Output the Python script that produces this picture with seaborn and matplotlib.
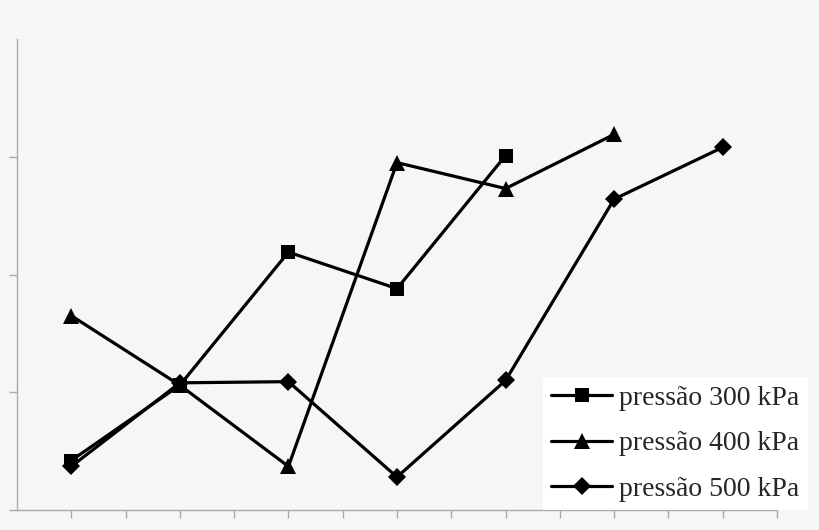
import numpy as np
import pandas as pd
import matplotlib
matplotlib.use("Agg")
import matplotlib.pyplot as plt
import seaborn as sns

# values
X_300 = [1, 3, 5, 7, 9]
Y_300 = [0.42, 1.06, 2.19, 1.88, 3.01]
X_400 = [1, 3, 5, 7, 9, 11]
Y_400 = [1.65, 1.06, 0.37, 2.95, 2.73, 3.19]
X_500 = [1, 3, 5, 7, 9, 11, 13]
Y_500 = [0.37, 1.08, 1.09, 0.28, 1.10, 2.64, 3.08]
SERIES_NAMES = ["pressão 300 kPa", "pressão 400 kPa", "pressão 500 kPa"]
MARKERS = ["s", "^", "D"]

BG = "#f6f6f6"
AXIS_GREY = "#aaaaaa"


def build_frame():
    rows = []
    for name, xs, ys in zip(SERIES_NAMES, [X_300, X_400, X_500], [Y_300, Y_400, Y_500]):
        for x, y in zip(xs, ys):
            rows.append({"x": x, "y": y, "serie": name})
    return pd.DataFrame(rows)


def main():
    sns.set_style("white")
    df = build_frame()

    fig = plt.figure(figsize=(8.2, 5.3), dpi=100, facecolor=BG)
    ax = fig.add_axes([17 / 820, 20 / 530, 760 / 820, 471 / 530])
    ax.set_facecolor(BG)

    sns.lineplot(data=df, x="x", y="y", hue="serie", style="serie",
                 palette=["black"] * 3, markers=dict(zip(SERIES_NAMES, MARKERS)),
                 dashes=False, linewidth=2.3, markersize=10, markeredgewidth=0,
                 ax=ax, legend=True)
    # diamonds look a bit smaller in the original
    for line, ms in zip(ax.lines, [10, 12, 9]):
        line.set_markersize(ms)

    ax.set_xlim(0, 14)
    ax.set_ylim(0, 4)
    ax.set_xticks(np.arange(1, 15))
    ax.set_yticks([0, 1, 2, 3])
    ax.set_xticklabels([])
    ax.set_yticklabels([])
    ax.set_xlabel("")
    ax.set_ylabel("")
    ax.tick_params(axis="both", length=6, width=1, color=AXIS_GREY, direction="out",
                   bottom=True, left=True)
    for side in ["top", "right"]:
        ax.spines[side].set_visible(False)
    for side in ["left", "bottom"]:
        ax.spines[side].set_color(AXIS_GREY)
        ax.spines[side].set_linewidth(1)

    handles, labels = ax.get_legend_handles_labels()
    for h, ms in zip(handles, [10, 12, 9]):
        h.set_markersize(ms)
        h.set_markeredgewidth(0)
    leg = ax.legend(handles, labels, loc="lower left",
                    bbox_to_anchor=(543 / 820, 20 / 530), bbox_transform=fig.transFigure,
                    borderaxespad=0, frameon=True, fancybox=False, framealpha=1,
                    edgecolor="white", facecolor="white",
                    prop={"family": ["Liberation Serif", "DejaVu Serif"], "size": 20},
                    handlelength=2.2, handletextpad=0.25, labelspacing=0.72,
                    borderpad=0.3)
    leg.get_frame().set_linewidth(0)

    fig.savefig("out.png", dpi=100, facecolor=BG)
    plt.close(fig)


if __name__ == "__main__":
    main()
